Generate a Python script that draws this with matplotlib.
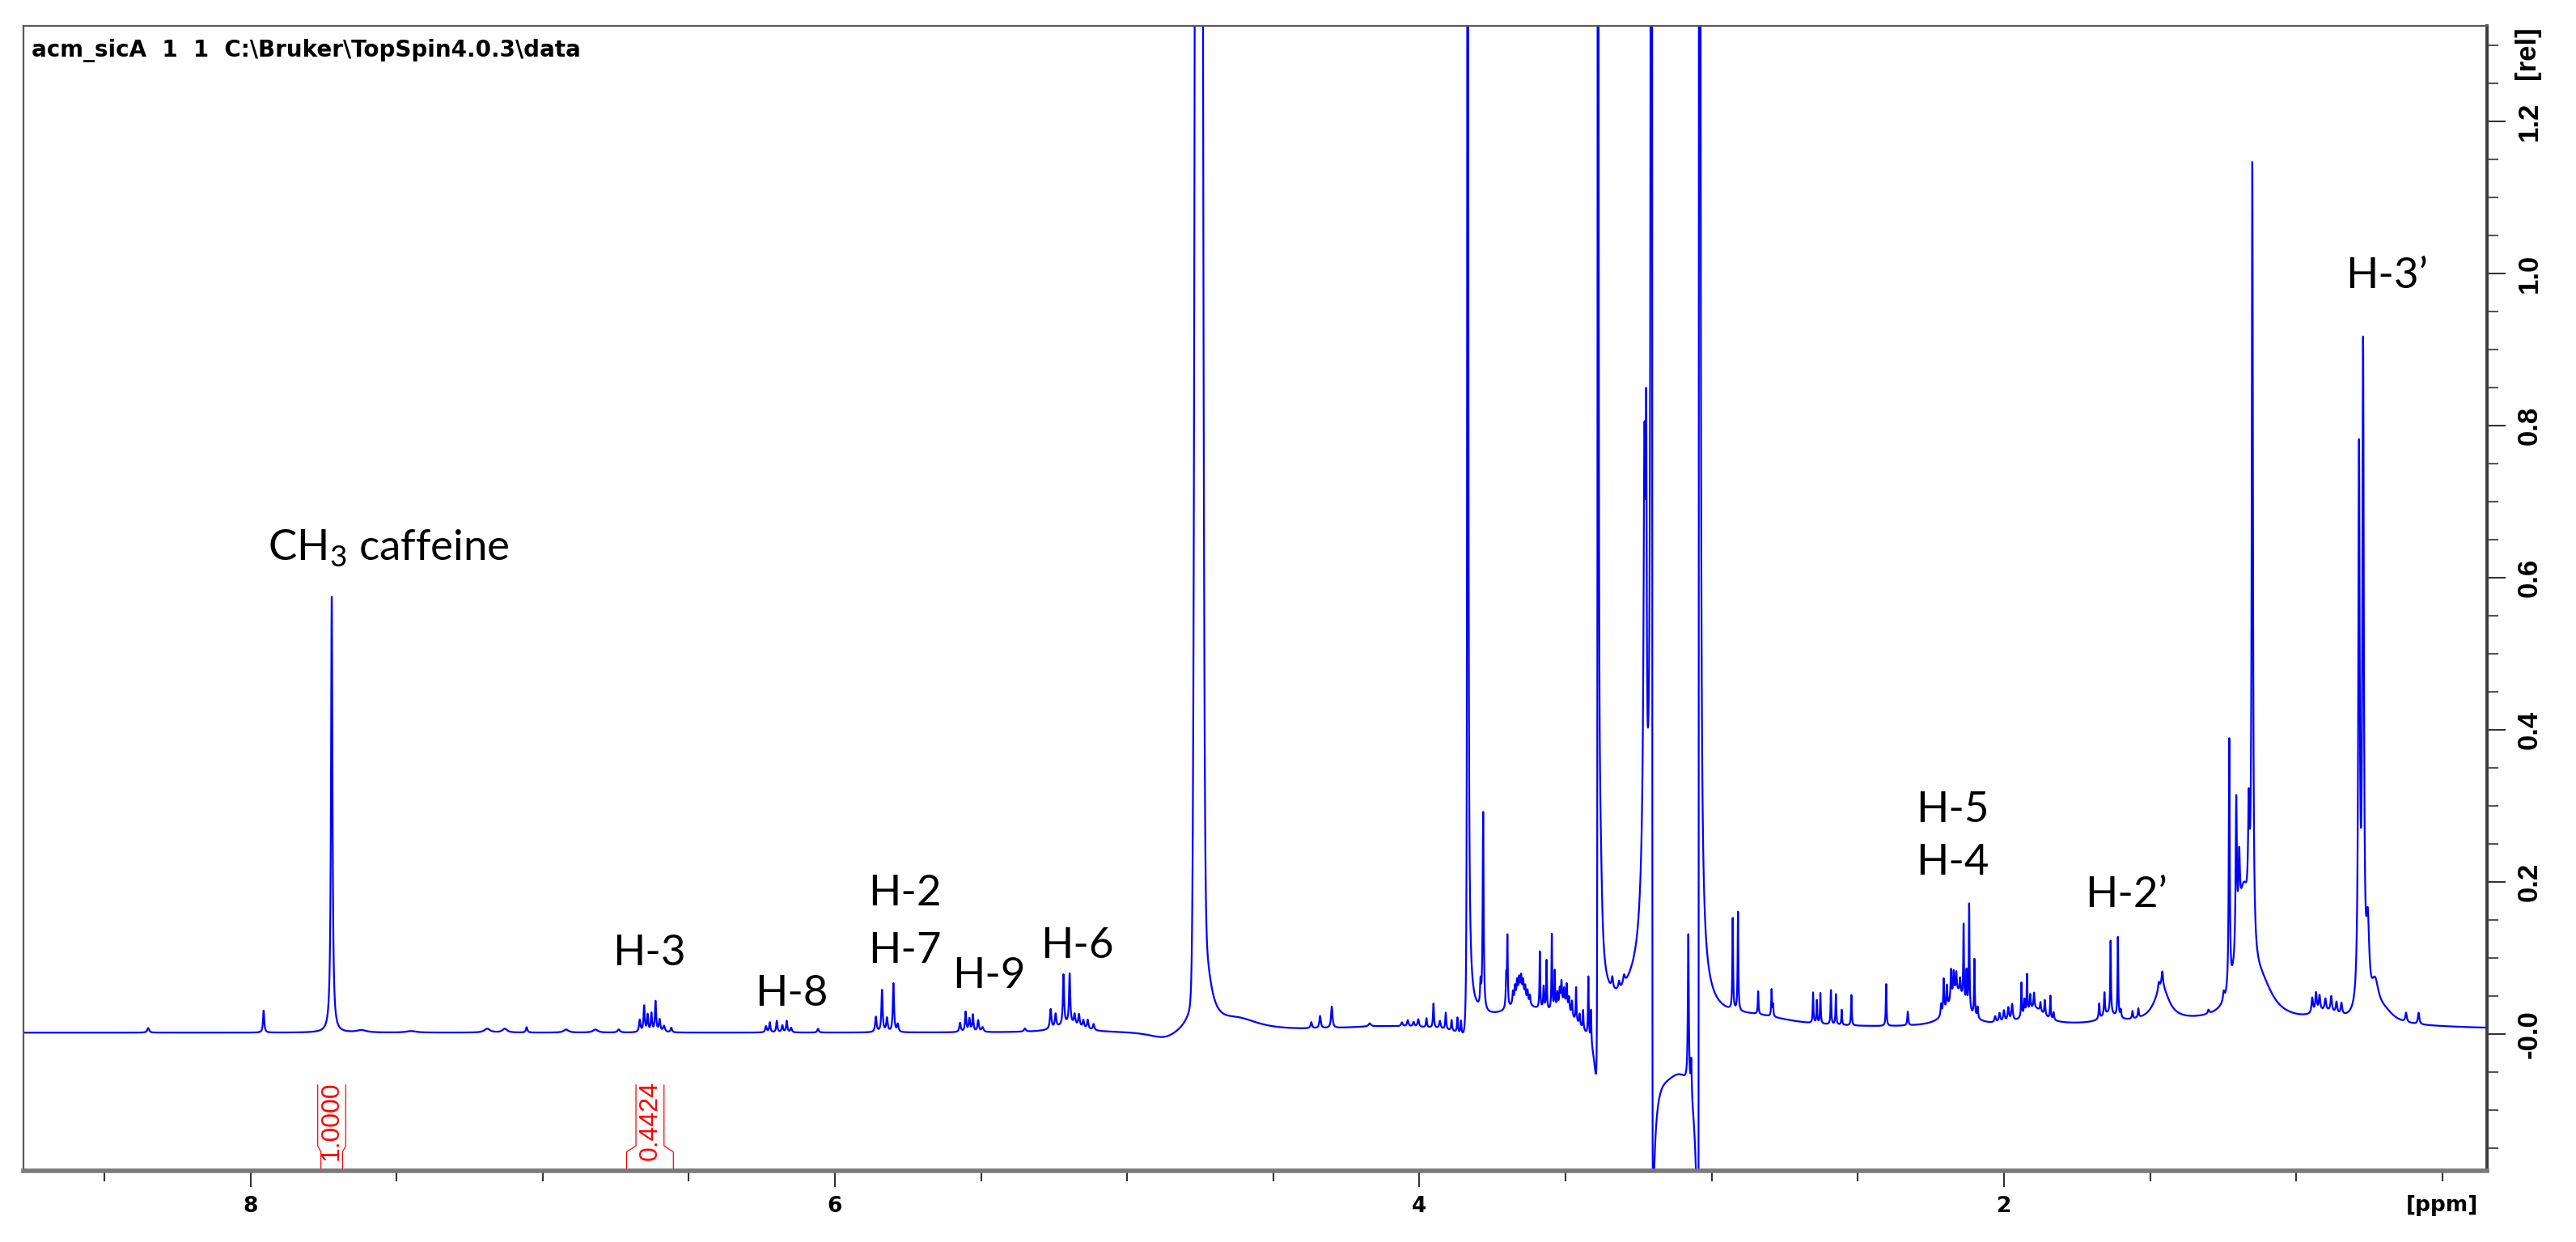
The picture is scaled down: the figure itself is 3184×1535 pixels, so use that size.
import numpy as np
import matplotlib
matplotlib.use("Agg")
import matplotlib.pyplot as plt
from matplotlib import font_manager as fm
from matplotlib.ticker import FixedLocator, FixedFormatter

plt.rcParams["path.simplify"] = False
plt.rcParams["mathtext.fontset"] = "custom"
plt.rcParams["mathtext.rm"] = "Lato"

_names = {f.name for f in fm.fontManager.ttflist}
NARROW = "Liberation Sans Narrow" if "Liberation Sans Narrow" in _names else "Liberation Sans"

# ---------------- data: 1H NMR peak table ----------------
baseline_level = 0.002

# Lorentzian lines: position [ppm], height [rel], half width [ppm]
lor_ppm = [8.350, 7.955, 7.722, 7.62, 7.45, 7.19, 7.13, 7.055, 6.92, 6.82, 6.74,
           6.668, 6.653, 6.641, 6.628, 6.614, 6.600, 6.585, 6.560,
           6.236, 6.223, 6.199, 6.180, 6.165, 6.150, 6.058,
           5.860, 5.839, 5.822, 5.800, 5.785,
           5.572, 5.553, 5.540, 5.528, 5.510, 5.495, 5.350,
           5.262, 5.245, 5.218, 5.197, 5.180, 5.165, 5.150, 5.135, 5.115, 5.200, 4.870,
           4.752, 4.735, 4.620,
           4.10, 4.370, 4.340, 4.300, 4.170, 4.060, 4.040, 4.020, 4.004, 3.976, 3.952,
           3.930, 3.910, 3.890, 3.870, 3.858,
           3.835, 3.791, 3.782, 3.62, 3.703, 3.699,
           3.655, 3.680, 3.673, 3.666, 3.659, 3.652, 3.645, 3.638, 3.630, 3.622,
           3.588, 3.575, 3.565, 3.547, 3.537,
           3.505, 3.528, 3.520, 3.514, 3.505, 3.496, 3.488, 3.478,
           3.464, 3.452, 3.440, 3.422, 3.413,
           3.389, 3.380, 3.340, 3.317, 3.300, 3.26, 3.235, 3.230, 3.224,
           3.206, 3.15, 3.080, 3.070, 3.041,
           2.85, 2.928, 2.910, 2.841, 2.795, 2.790, 2.653, 2.640, 2.628, 2.592, 2.575,
           2.555, 2.522, 2.403, 2.329,
           2.160, 2.215, 2.206, 2.195, 2.181, 2.172, 2.163, 2.150, 2.138, 2.128, 2.119,
           2.101, 2.090,
           2.030, 2.015, 2.000, 1.985, 1.972,
           1.895, 1.940, 1.930, 1.921, 1.910, 1.897, 1.875, 1.860, 1.841, 1.830,
           1.64, 1.674, 1.656, 1.635, 1.610, 1.600, 1.560, 1.540,
           1.460, 1.458, 1.470, 1.300,
           1.248, 1.229, 1.205, 1.195, 1.162, 1.150, 1.18, 1.12,
           0.945, 0.932, 0.920, 0.900, 0.880, 0.862, 0.845, 0.90,
           0.785, 0.771, 0.755, 0.730, 0.700, 0.624, 0.581,
           1.20]
lor_height = [0.006, 0.029, 0.573, 0.003, 0.002, 0.005, 0.005, 0.007, 0.004, 0.004, 0.004,
              0.016, 0.034, 0.022, 0.024, 0.040, 0.016, 0.008, 0.006,
              0.008, 0.013, 0.015, 0.009, 0.015, 0.006, 0.005,
              0.020, 0.055, 0.018, 0.064, 0.010,
              0.012, 0.026, 0.017, 0.022, 0.015, 0.006, 0.004,
              0.026, 0.018, 0.066, 0.066, 0.014, 0.016, 0.010, 0.012, 0.008, 0.010, -0.012,
              0.15, 0.080, 0.015,
              0.008, 0.008, 0.016, 0.028, 0.004, 0.005, 0.008, 0.006, 0.010, 0.012, 0.032,
              0.010, 0.022, 0.014, 0.020, 0.018,
              3.0, 0.030, 0.26, 0.025, 0.040, 0.090,
              0.025, 0.015, 0.018, 0.020, 0.018, 0.020, 0.018, 0.016, 0.015, 0.012,
              0.075, 0.030, 0.065, 0.100, 0.050,
              0.020, 0.020, 0.022, 0.030, 0.020, 0.030, 0.018, 0.020,
              0.045, 0.015, 0.025, 0.080, 0.045,
              5.0, 0.08, 0.015, 0.010, 0.012, 0.030, 0.08, 0.55, 0.45,
              5.0, -0.020, 0.20, 0.05, 5.0,
              0.012, 0.120, 0.130, 0.030, 0.035, 0.015, 0.040, 0.030, 0.040, 0.045, 0.040,
              0.020, 0.040, 0.055, 0.018,
              0.045, 0.015, 0.045, 0.030, 0.040, 0.030, 0.025, 0.020, 0.100, 0.045, 0.140,
              0.075, 0.015,
              0.008, 0.012, 0.015, 0.018, 0.022,
              0.022, 0.045, 0.020, 0.050, 0.020, 0.020, 0.012, 0.020, 0.030, 0.010,
              0.012, 0.020, 0.030, 0.095, 0.105, 0.010, 0.010, 0.012,
              0.045, 0.020, 0.010, 0.005,
              0.012, 0.33, 0.20, 0.09, 0.14, 1.03, 0.15, 0.04,
              0.020, 0.025, 0.020, 0.015, 0.020, 0.015, 0.015, 0.012,
              0.72, 0.85, 0.10, 0.04, 0.015, 0.012, 0.015,
              0.012]
lor_hwhm = [0.004, 0.0025, 0.003, 0.02, 0.02, 0.012, 0.01, 0.003, 0.01, 0.01, 0.005,
            0.003, 0.0025, 0.0025, 0.0025, 0.0025, 0.003, 0.004, 0.003,
            0.003, 0.0025, 0.0025, 0.003, 0.0025, 0.003, 0.003,
            0.003, 0.0025, 0.003, 0.0025, 0.003,
            0.003, 0.0025, 0.003, 0.0025, 0.003, 0.004, 0.004,
            0.003, 0.003, 0.0025, 0.0025, 0.003, 0.003, 0.003, 0.003, 0.003, 0.05, 0.07,
            0.012, 0.025, 0.09,
            0.25, 0.003, 0.003, 0.003, 0.005, 0.003, 0.003, 0.003, 0.003, 0.002, 0.002,
            0.003, 0.002, 0.002, 0.002, 0.002,
            0.0015, 0.002, 0.002, 0.15, 0.002, 0.0015,
            0.02, 0.002, 0.002, 0.002, 0.002, 0.002, 0.002, 0.002, 0.002, 0.002,
            0.0015, 0.002, 0.0015, 0.0015, 0.0015,
            0.025, 0.002, 0.002, 0.002, 0.002, 0.002, 0.002, 0.002,
            0.0015, 0.002, 0.0015, 0.0015, 0.0015,
            0.001, 0.006, 0.003, 0.003, 0.004, 0.05, 0.015, 0.004, 0.002,
            0.0015, 0.05, 0.002, 0.002, 0.0015,
            0.15, 0.0015, 0.0015, 0.0015, 0.0015, 0.0015, 0.0015, 0.0015, 0.0015, 0.0015, 0.0015,
            0.0015, 0.0015, 0.0015, 0.002,
            0.035, 0.002, 0.002, 0.002, 0.002, 0.002, 0.002, 0.002, 0.0015, 0.0015, 0.0015,
            0.0015, 0.002,
            0.003, 0.003, 0.003, 0.003, 0.003,
            0.04, 0.0015, 0.002, 0.0015, 0.002, 0.002, 0.002, 0.002, 0.0015, 0.002,
            0.03, 0.002, 0.002, 0.0015, 0.0015, 0.002, 0.002, 0.002,
            0.03, 0.003, 0.003, 0.003,
            0.003, 0.002, 0.0025, 0.003, 0.003, 0.0025, 0.025, 0.05,
            0.003, 0.003, 0.003, 0.003, 0.003, 0.003, 0.003, 0.05,
            0.003, 0.003, 0.006, 0.015, 0.04, 0.003, 0.003,
            0.7]

# Gaussian line (solvent / HDO): position, height, sigma
gau_ppm = [4.755]
gau_height = [6.0]
gau_sigma = [0.008]

# dispersive (phase-distorted) components: position, amplitude, half width
dis_ppm = [3.836, 3.390, 3.204, 3.044]
dis_amp = [-0.4, -0.8, 1.67, -1.67]
dis_hwhm = [0.0015, 0.0015, 0.0015, 0.0015]

# integrals
integ_start = [7.759, 6.713]
integ_end = [7.685, 6.553]
integ_labels = ["1.0000", "0.4424"]

# axis ticks
x_major = [8, 6, 4, 2]
x_major_labels = ["8", "6", "4", "2"]
x_minor = [8.5, 7.5, 7, 6.5, 5.5, 5, 4.5, 3.5, 3, 2.5, 1.5, 1, 0.5]
y_major = [0.0, 0.2, 0.4, 0.6, 0.8, 1.0, 1.2]
y_major_labels = ["-0.0", "0.2", "0.4", "0.6", "0.8", "1.0", "1.2"]
y_minor = [-0.15, -0.10, -0.05, 0.05, 0.10, 0.15, 0.25, 0.30, 0.35, 0.45, 0.50, 0.55,
           0.65, 0.70, 0.75, 0.85, 0.90, 0.95, 1.05, 1.10, 1.15, 1.25, 1.30]

# peak assignment labels
ann_text = [r"CH$_{\mathrm{3}}$ caffeine", "H-3", "H-8", "H-2", "H-7", "H-9", "H-6",
            "H-5", "H-4", "H-2\u2019", "H-3\u2019"]
ann_ppm = [7.528, 6.637, 6.150, 5.762, 5.762, 5.474, 5.170, 2.177, 2.177, 1.582, 0.691]
ann_y = [0.623, 0.0904, 0.0372, 0.169, 0.0936, 0.0606, 0.100, 0.279, 0.2096, 0.167, 0.981]

title_text = "acm_sicA  1  1  C:\\Bruker\\TopSpin4.0.3\\data"

# ---------------- build spectrum from the peak table ----------------
ppm = np.arange(0.30, 8.80, 0.00025)
spec = np.full_like(ppm, baseline_level)
for c, h, w in zip(lor_ppm, lor_height, lor_hwhm):
    spec += h * w ** 2 / ((ppm - c) ** 2 + w ** 2)
for c, h, s in zip(gau_ppm, gau_height, gau_sigma):
    spec += h * np.exp(-0.5 * ((ppm - c) / s) ** 2)
for c, a, w in zip(dis_ppm, dis_amp, dis_hwhm):
    spec += a * w * (ppm - c) / ((ppm - c) ** 2 + w ** 2)

# ---------------- figure ----------------
fig = plt.figure(figsize=(31.84, 15.35), dpi=100)
ax = fig.add_axes([0.00898, 0.05733, 0.95647, 0.92163])
ax.plot(ppm, spec, color="#0000ff", lw=1.6)

ax.set_xlim(8.778, 0.347)
ax.set_ylim(-0.1798, 1.3252)

# frame
for side in ["top", "left"]:
    ax.spines[side].set_color("#5a5a5a")
    ax.spines[side].set_linewidth(1.6)
ax.spines["right"].set_color("#3a3a3a")
ax.spines["right"].set_linewidth(2.8)
ax.spines["bottom"].set_color("#7a7a7a")
ax.spines["bottom"].set_linewidth(4.0)

# x axis
ax.xaxis.set_major_locator(FixedLocator(x_major))
ax.xaxis.set_major_formatter(FixedFormatter(x_major_labels))
ax.xaxis.set_minor_locator(FixedLocator(x_minor))
ax.tick_params(axis="x", which="major", direction="out", length=14.5, width=1.5,
               color="#333333", pad=8, labelsize=19)
ax.tick_params(axis="x", which="minor", direction="out", length=9.5, width=1.5,
               color="#333333")
for lab in ax.get_xticklabels():
    lab.set_fontfamily("DejaVu Sans")
    lab.set_fontweight("bold")

# y axis on the right
ax.yaxis.tick_right()
ax.yaxis.set_major_locator(FixedLocator(y_major))
ax.yaxis.set_major_formatter(FixedFormatter(y_major_labels))
ax.yaxis.set_minor_locator(FixedLocator(y_minor))
ax.tick_params(axis="y", which="major", direction="out", length=16.5, width=1.5,
               color="#333333", pad=9, labelsize=25, labelrotation=90,
               left=False, right=True, labelleft=False, labelright=True)
ax.tick_params(axis="y", which="minor", direction="out", length=10, width=1.5,
               color="#555555", left=False, right=True)
for lab in ax.get_yticklabels():
    lab.set_fontfamily(NARROW)
    lab.set_fontweight("bold")
    lab.set_va("center")

ax.text(1.0161, 0.977, "[rel]", transform=ax.transAxes, rotation=90,
        ha="center", va="center", fontsize=25, family=NARROW, fontweight="bold")
ax.text(0.9816, -0.0304, "[ppm]", transform=ax.transAxes, ha="center", va="center",
        fontsize=19, family="DejaVu Sans", fontweight="bold")

# title inside the frame
ax.text(0.0034, 0.9783, title_text, transform=ax.transAxes, ha="left", va="center",
        fontsize=20, family="DejaVu Sans", fontweight="bold")

# integral brackets
y_axis_bottom, y_kink, y_box_bottom, y_box_top = -0.1798, -0.155, -0.147, -0.067
box_half = 0.048
for s, e, lab in zip(integ_start, integ_end, integ_labels):
    c = 0.5 * (s + e)
    ax.plot([s, s, c + box_half, c + box_half], [y_axis_bottom, y_kink, y_box_bottom, y_box_top],
            color="red", lw=0.9, clip_on=False)
    ax.plot([e, e, c - box_half, c - box_half], [y_axis_bottom, y_kink, y_box_bottom, y_box_top],
            color="red", lw=0.9, clip_on=False)
    ax.text(c, -0.114, lab, rotation=90, ha="center", va="center", color="red",
            fontsize=23, family=NARROW)

# assignments
for t, x, y in zip(ann_text, ann_ppm, ann_y):
    ax.text(x, y, t, ha="center", va="baseline", fontsize=38, family="Lato", color="black")

fig.savefig("out.png", dpi=100, facecolor="white")
